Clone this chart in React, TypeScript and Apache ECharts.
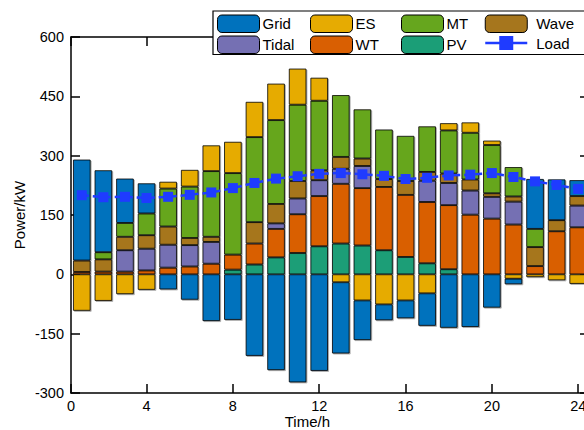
import React, { useEffect, useRef } from 'react';
import * as echarts from 'echarts';

const hours = ['1', '2', '3', '4', '5', '6', '7', '8', '9', '10', '11', '12', '13', '14', '15', '16', '17', '18', '19', '20', '21', '22', '23', '24'];
const xTickValues = [0.5, 4, 8, 12, 16, 20, 24];
const xTickLabels = ['0', '4', '8', '12', '16', '20', '24'];

const gridPower = [255, 207, 112, 76, -38, -64, -118, -115, -206, -242, -273, -244, -180, -100, -40, -45, -82, -135, -133, -84, -14, 126, 103, 40];
const esPower = [-92, -67, -50, -39, 17, 42, 65, 79, 89, 92, 91, 58, -20, -66, -76, -66, -48, 18, 26, 11, -11, -7, -15, -24];
const mtPower = [0, 18, 35, 55, 96, 130, 166, 206, 215, 212, 193, 176, 156, 124, 125, 114, 115, 109, 118, 122, 74, 46, 0, 0];
const wavePower = [29, 31, 34, 34, 46, 18, 13, 0, 54, 49, 44, 25, 30, 19, 20, 35, 22, 24, 28, 9, 13, 48, 28, 24];
const tidalPower = [0, 0, 54, 55, 58, 54, 55, 0, 0, 14, 40, 40, 38, 56, 0, 0, 54, 56, 61, 55, 58, 0, 0, 55];
const wtPower = [6, 7, 7, 10, 17, 20, 27, 38, 53, 72, 98, 127, 151, 145, 160, 157, 155, 162, 151, 141, 126, 21, 109, 119];
const pvPower = [0, 0, 0, 0, 0, 0, 0, 12, 25, 43, 54, 71, 78, 73, 61, 44, 28, 13, 0, 0, 0, 0, 0, 0];
const loadPower = [200, 195, 196, 193, 196, 201, 207, 218, 231, 242, 248, 254, 256, 253, 249, 241, 244, 250, 252, 256, 246, 235, 226, 216];

const colors: Record<string, string> = {
  Grid: '#0072BD',
  ES: '#E6AB02',
  MT: '#66A61E',
  Wave: '#A6761D',
  Tidal: '#7570B3',
  WT: '#D95F02',
  PV: '#1B9E77',
  Load: '#1F3BFF',
};

const FONT = '"Liberation Sans", Arial, Helvetica, sans-serif';

export default function App() {
  const ref = useRef<HTMLDivElement>(null);

  useEffect(() => {
    if (!ref.current) return;
    const chart = echarts.init(ref.current, undefined, { renderer: 'svg' });

    const stackOrder: [string, number[]][] = [
      ['PV', pvPower],
      ['WT', wtPower],
      ['Tidal', tidalPower],
      ['Wave', wavePower],
      ['MT', mtPower],
      ['ES', esPower],
      ['Grid', gridPower],
    ];

    const barSeries = stackOrder.map(([name, vals]) => ({
      name,
      type: 'bar',
      stack: 'total',
      barWidth: 17.5,
      xAxisIndex: 2,
      yAxisIndex: 0,
      data: vals.map((v) => (v === 0 ? '-' : v)),
      itemStyle: {
        color: colors[name],
        borderColor: '#000',
        borderWidth: 0.8,
        shadowColor: 'rgba(0,0,0,0.35)',
        shadowBlur: 1.5,
        shadowOffsetX: 1,
        shadowOffsetY: 1,
      },
    }));

    const legendCommon = {
      orient: 'vertical',
      padding: 0,
      itemWidth: 42,
      itemHeight: 17.5,
      itemGap: 2.5,
      top: 14.5,
      z: 20,
      selectedMode: false,
      textStyle: { fontSize: 15, color: '#000', fontFamily: FONT, padding: [0, 0, 0, -2] },
      itemStyle: { shadowBlur: 0, shadowOffsetX: 0, shadowOffsetY: 0, borderWidth: 1 },
    };

    const axisLineStyle = { color: '#000', width: 1.5 };

    chart.setOption({
      animation: false,
      backgroundColor: '#fff',
      grid: { left: 71, top: 37, width: 518, height: 356, containLabel: false, outerBoundsMode: 'none' },
      xAxis: [
        {
          type: 'value',
          position: 'bottom',
          min: 0.5,
          max: 24.5,
          name: 'Time/h',
          nameLocation: 'middle',
          nameGap: 21,
          nameMoveOverlap: false,
          nameTextStyle: { fontSize: 15, lineHeight: 15, color: '#000', fontFamily: FONT, align: 'right' },
          axisLine: { show: true, onZero: false, lineStyle: axisLineStyle },
          axisTick: { show: true, inside: true, length: 9, lineStyle: axisLineStyle, customValues: xTickValues },
          axisLabel: {
            show: true,
            margin: 6,
            fontSize: 14.5,
            lineHeight: 14,
            color: '#000',
            fontFamily: FONT,
            customValues: xTickValues,
            formatter: (v: number) => {
              const idx = xTickValues.indexOf(v);
              return idx >= 0 ? xTickLabels[idx] : '';
            },
          },
          splitLine: { show: false },
        },
        {
          type: 'value',
          position: 'top',
          min: 0.5,
          max: 24.5,
          axisLine: { show: true, onZero: false, lineStyle: axisLineStyle },
          axisTick: { show: true, inside: true, length: 9, lineStyle: axisLineStyle, customValues: xTickValues },
          axisLabel: { show: false },
          splitLine: { show: false },
        },
        {
          type: 'category',
          position: 'bottom',
          data: hours,
          boundaryGap: true,
          show: false,
        },
      ],
      yAxis: [
        {
          type: 'value',
          position: 'left',
          min: -300,
          max: 600,
          interval: 150,
          name: 'Power/kW',
          nameLocation: 'middle',
          nameGap: 44,
          nameMoveOverlap: false,
          nameTextStyle: { fontSize: 15, color: '#000', fontFamily: FONT },
          axisLine: { show: true, onZero: false, lineStyle: axisLineStyle },
          axisTick: { show: true, inside: true, length: 9, lineStyle: axisLineStyle },
          axisLabel: { margin: 7, fontSize: 14.5, color: '#000', fontFamily: FONT },
          splitLine: { show: false },
        },
        {
          type: 'value',
          position: 'right',
          min: -300,
          max: 600,
          interval: 150,
          axisLine: { show: true, onZero: false, lineStyle: axisLineStyle },
          axisTick: { show: true, inside: true, length: 9, lineStyle: axisLineStyle },
          axisLabel: { show: false },
          splitLine: { show: false },
        },
      ],
      graphic: [
        {
          type: 'rect',
          z: 15,
          shape: { x: 213, y: 11, width: 420, height: 43.5 },
          style: { fill: '#fff', stroke: '#000', lineWidth: 1.2 },
        },
      ],
      legend: [
        { ...legendCommon, left: 217, data: ['Grid', 'Tidal'] },
        { ...legendCommon, left: 310, data: ['ES', 'WT'] },
        { ...legendCommon, left: 401, data: ['MT', 'PV'] },
        {
          ...legendCommon,
          left: 484,
          textStyle: { ...legendCommon.textStyle, padding: [0, 0, 0, 4] },
          data: ['Wave', { name: 'Load', lineStyle: { type: 'solid', width: 2.5 } }],
        },
      ],
      series: [
        ...barSeries,
        {
          name: 'Load',
          type: 'line',
          xAxisIndex: 2,
          yAxisIndex: 0,
          z: 10,
          data: loadPower,
          symbol: 'rect',
          symbolSize: 10,
          lineStyle: { color: colors.Load, width: 2.5, type: [7, 4] },
          itemStyle: { color: colors.Load },
        },
      ],
    });

    return () => chart.dispose();
  }, []);

  return (
    <div
      ref={ref}
      style={{ position: 'absolute', left: 0, top: 0, width: 584, height: 430 }}
    />
  );
}
